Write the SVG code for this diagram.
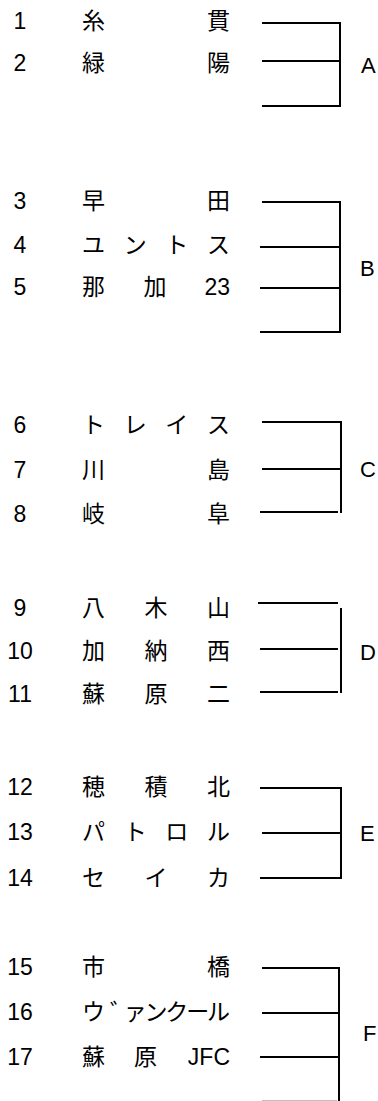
<svg xmlns="http://www.w3.org/2000/svg" width="378" height="1101" viewBox="0 0 378 1101">
<style>
.t{font-family:"Liberation Sans","Noto Sans CJK JP",sans-serif;font-size:23px;fill:#000}
.n{text-anchor:middle}
.e{text-anchor:end}
.lb{font-family:"Liberation Sans",sans-serif;font-size:22px;fill:#000}
.c line{stroke:#000;stroke-width:2}
</style>
<rect width="378" height="1101" fill="#fff"/>
<g id="connectors" class="c">
<line x1="262" y1="23" x2="341" y2="23"/><line x1="262" y1="61" x2="341" y2="61"/><line x1="262" y1="106" x2="341" y2="106"/><line x1="340" y1="22" x2="340" y2="107"/>
<line x1="262" y1="202" x2="341" y2="202"/><line x1="260" y1="247" x2="341" y2="247"/><line x1="260" y1="288" x2="341" y2="288"/><line x1="260" y1="332" x2="341" y2="332"/><line x1="340" y1="201" x2="340" y2="333"/>
<line x1="262" y1="422" x2="342" y2="422"/><line x1="262" y1="469" x2="342" y2="469"/><line x1="260" y1="512" x2="338" y2="512"/><line x1="341" y1="421" x2="341" y2="513"/>
<line x1="258" y1="603" x2="338" y2="603"/><line x1="260" y1="649" x2="338" y2="649"/><line x1="260" y1="692" x2="338" y2="692"/><line x1="341" y1="608" x2="341" y2="693"/>
<line x1="260" y1="788" x2="342" y2="788"/><line x1="262" y1="833" x2="342" y2="833"/><line x1="260" y1="878" x2="340" y2="878"/><line x1="341" y1="787" x2="341" y2="879"/>
<line x1="262" y1="968" x2="340" y2="968"/><line x1="262" y1="1013" x2="340" y2="1013"/><line x1="260" y1="1057" x2="340" y2="1057"/><line x1="262" y1="1101.7" x2="337" y2="1101.7"/><line x1="339" y1="967" x2="339" y2="1101"/>
</g>
<g id="row1"><text class="t n" x="20" y="29">1</text><text class="t" x="82 207" y="29">糸貫</text></g>
<g id="row2"><text class="t n" x="20" y="71">2</text><text class="t" x="82 207" y="71">緑陽</text></g>
<g id="row3"><text class="t n" x="20" y="209">3</text><text class="t" x="82 207" y="209">早田</text></g>
<g id="row4"><text class="t n" x="20" y="253">4</text><text class="t" x="82 123.7 165.3 207" y="253">ユントス</text></g>
<g id="row5"><text class="t n" x="20" y="295">5</text><text class="t" x="82 143.5" y="295">那加</text><text class="t e" x="230" y="295">23</text></g>
<g id="row6"><text class="t n" x="20" y="433">6</text><text class="t" x="82 123.7 165.3 207" y="433">トレイス</text></g>
<g id="row7"><text class="t n" x="20" y="478">7</text><text class="t" x="82 207" y="478">川島</text></g>
<g id="row8"><text class="t n" x="20" y="522">8</text><text class="t" x="82 207" y="522">岐阜</text></g>
<g id="row9"><text class="t n" x="20" y="615.5">9</text><text class="t" x="82 144.5 207" y="615.5">八木山</text></g>
<g id="row10"><text class="t n" x="20" y="659">10</text><text class="t" x="82 144.5 207" y="659">加納西</text></g>
<g id="row11"><text class="t n" x="20" y="702">11</text><text class="t" x="82 144.5 207" y="702">蘇原二</text></g>
<g id="row12"><text class="t n" x="20" y="794.5">12</text><text class="t" x="82 144.5 207" y="794.5">穂積北</text></g>
<g id="row13"><text class="t n" x="20" y="839.5">13</text><text class="t" x="82 123.7 165.3 207" y="839.5">パトロル</text></g>
<g id="row14"><text class="t n" x="20" y="886">14</text><text class="t" x="82 144.5 207" y="886">セイカ</text></g>
<g id="row15"><text class="t n" x="20" y="974.5">15</text><text class="t" x="82 207" y="974.5">市橋</text></g>
<g id="row16"><text class="t n" x="20" y="1019.5">16</text><text class="t" x="82 110 123.7 144.5 165.3 186.2 207" y="1019.5">ウ゛ァンクール</text></g>
<g id="row17"><text class="t n" x="20" y="1064.5">17</text><text class="t" x="82 134" y="1064.5">蘇原</text><text class="t e" x="230" y="1064.5">JFC</text></g>
<g id="groupA"><text class="lb" x="361" y="73">A</text></g>
<g id="groupB"><text class="lb" x="360" y="276">B</text></g>
<g id="groupC"><text class="lb" x="360" y="477">C</text></g>
<g id="groupD"><text class="lb" x="360" y="660">D</text></g>
<g id="groupE"><text class="lb" x="360" y="841">E</text></g>
<g id="groupF"><text class="lb" x="363" y="1041">F</text></g>
</svg>
